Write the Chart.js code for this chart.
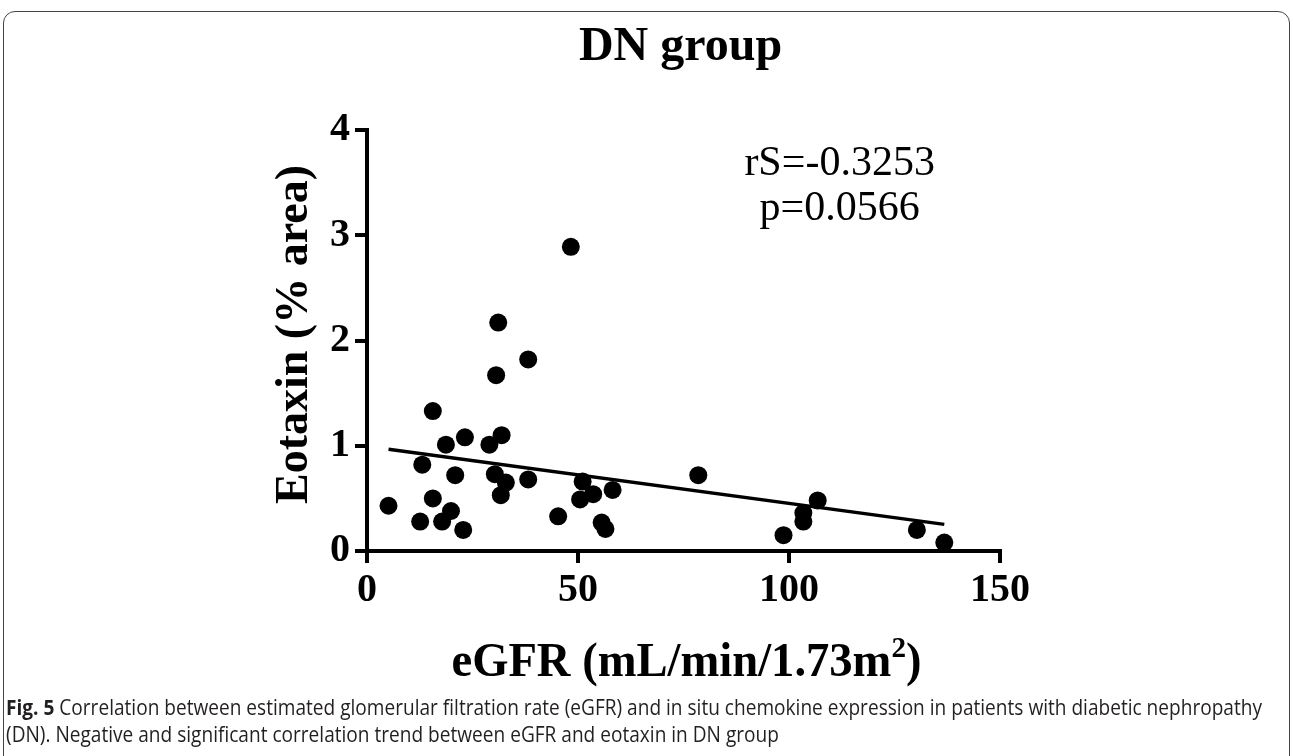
<!DOCTYPE html>
<html>
<head>
<meta charset="utf-8">
<script src="https://cdn.jsdelivr.net/npm/chart.js@4"></script>
<style>
  body { margin: 0; background: #fff; width: 1293px; height: 756px; overflow: hidden; position: relative; }
  #frame { position: absolute; left: 3px; top: 11px; width: 1285px; height: 800px; border: 1.5px solid #444; border-radius: 12px; }
  #wrap { position: absolute; left: 0; top: 0; width: 1293px; height: 700px; }
  #caption { position: absolute; left: 6px; top: 694px; font-family: "Open Sans", "DejaVu Sans", sans-serif; font-size: 21px; line-height: 27px; color: #231f20; white-space: nowrap; transform-origin: 0 0; }
  #caption .ln { display: block; }
  #caption b { font-weight: bold; }
</style>
</head>
<body>
<div id="frame"></div>
<div id="wrap"><canvas id="myChart" width="1293" height="700"></canvas></div>
<div id="caption"><span class="ln" id="cap1"><b>Fig. 5</b> Correlation between estimated glomerular filtration rate (eGFR) and in situ chemokine expression in patients with diabetic nephropathy</span><span class="ln">(DN). Negative and significant correlation trend between eGFR and eotaxin in DN group</span></div>
<script>
// values
const eGFR = [5.1, 12.6, 13.1, 15.6, 15.6, 17.8, 18.7, 19.9, 20.9, 22.8, 23.2, 29.0, 30.3, 30.6, 31.1, 31.7, 31.9, 32.9, 38.2, 38.2,
              45.3, 48.3, 50.5, 51.1, 53.6, 55.6, 56.5, 58.2, 78.5, 98.7, 103.4, 103.4, 106.8, 130.3, 136.8];
const eotaxin = [0.43, 0.28, 0.82, 1.33, 0.50, 0.28, 1.01, 0.38, 0.72, 0.20, 1.08, 1.01, 0.73, 1.67, 2.17, 0.53, 1.10, 0.65, 1.82, 0.68,
                 0.33, 2.89, 0.49, 0.66, 0.54, 0.27, 0.21, 0.58, 0.72, 0.15, 0.36, 0.28, 0.48, 0.20, 0.08];
const fitX = [5.1, 136.8];
const fitY = [0.967, 0.253];
const xTicks = [0, 50, 100, 150];
const yTicks = [0, 1, 2, 3, 4];
const statLines = ['rS=-0.3253', 'p=0.0566'];
const title = 'DN group';

const serif = "'Liberation Serif', 'Times New Roman', serif";

const points = eGFR.map((x, i) => ({ x: x, y: eotaxin[i] }));
const fitLine = fitX.map((x, i) => ({ x: x, y: fitY[i] }));

// squeeze the caption so the first line fills the box like the original
const cap = document.getElementById('caption');
const capW = document.getElementById('cap1').getBoundingClientRect().width;
cap.style.transform = 'scaleX(' + (1256 / capW) + ')';

// titles + stats text
const figText = {
  id: 'figText',
  afterDraw(chart) {
    const ctx = chart.ctx;
    const xs = chart.scales.x, ys = chart.scales.y;
    const midX = (chart.chartArea.left + chart.chartArea.right) / 2;
    const midY = (chart.chartArea.top + chart.chartArea.bottom) / 2;
    ctx.save();
    ctx.fillStyle = '#000';

    // chart title
    ctx.font = 'bold 48px ' + serif;
    ctx.textAlign = 'center';
    ctx.textBaseline = 'alphabetic';
    ctx.fillText(title, midX - 3, 60);

    // y title
    ctx.save();
    ctx.font = 'bold 46px ' + serif;
    ctx.translate(307, midY - 6);
    ctx.rotate(-Math.PI / 2);
    ctx.fillText('Eotaxin (% area)', 0, 0);
    ctx.restore();

    // x title with superscript
    ctx.save();
    const p1 = 'eGFR (mL/min/1.73m', p2 = '2', p3 = ')';
    ctx.font = 'bold 48px ' + serif;
    const w1 = ctx.measureText(p1).width, w3 = ctx.measureText(p3).width;
    ctx.font = 'bold 30px ' + serif;
    const w2 = ctx.measureText(p2).width;
    const total = w1 + w2 + w3;
    ctx.translate(midX + 3, 676);
    ctx.scale(470 / total, 1);
    ctx.textAlign = 'left';
    const x0 = -total / 2;
    ctx.font = 'bold 48px ' + serif;
    ctx.fillText(p1, x0, 0);
    ctx.font = 'bold 30px ' + serif;
    ctx.fillText(p2, x0 + w1, -19);
    ctx.font = 'bold 48px ' + serif;
    ctx.fillText(p3, x0 + w1 + w2, 0);
    ctx.restore();

    // stats
    ctx.font = '42px ' + serif;
    ctx.textAlign = 'center';
    const cx = xs.getPixelForValue(112);
    ctx.fillText(statLines[0], cx, ys.getPixelForValue(3.57));
    ctx.fillText(statLines[1], cx, ys.getPixelForValue(3.145));
    ctx.restore();
  }
};

const config = {
  type: 'scatter',
  data: {
    datasets: [{
      data: points,
      backgroundColor: '#000',
      borderWidth: 0,
      pointRadius: 9,
      pointHoverRadius: 9
    }, {
      type: 'line',
      data: fitLine,
      borderColor: '#000',
      borderWidth: 3.5,
      pointRadius: 0,
      fill: false
    }]
  },
  options: {
    responsive: false,
    animation: false,
    layout: { padding: { left: 0, right: 293, top: 130, bottom: 0 } },
    plugins: {
      legend: { display: false },
      tooltip: { enabled: false }
    },
    scales: {
      x: {
        type: 'linear',
        min: 0,
        max: 150,
        afterBuildTicks: (s) => { s.ticks = xTicks.map(v => ({ value: v })); },
        afterFit: (s) => { s.height = 149; },
        border: { display: true, color: '#000', width: 4 },
        grid: { drawOnChartArea: false, drawTicks: true, tickLength: 12, color: '#000', lineWidth: 4 },
        ticks: { color: '#000', padding: 4, maxRotation: 0, font: { family: serif, weight: 'bold', size: 40 } }
      },
      y: {
        type: 'linear',
        min: 0,
        max: 4,
        afterBuildTicks: (s) => { s.ticks = yTicks.map(v => ({ value: v })); },
        afterFit: (s) => { s.width = 367; },
        border: { display: true, color: '#000', width: 4 },
        grid: { drawOnChartArea: false, drawTicks: true, tickLength: 12, color: '#000', lineWidth: 4 },
        ticks: { color: '#000', padding: 5, font: { family: serif, weight: 'bold', size: 40 } }
      }
    }
  },
  plugins: [figText]
};

const myChart = new Chart(document.getElementById('myChart'), config);
</script>
</body>
</html>
